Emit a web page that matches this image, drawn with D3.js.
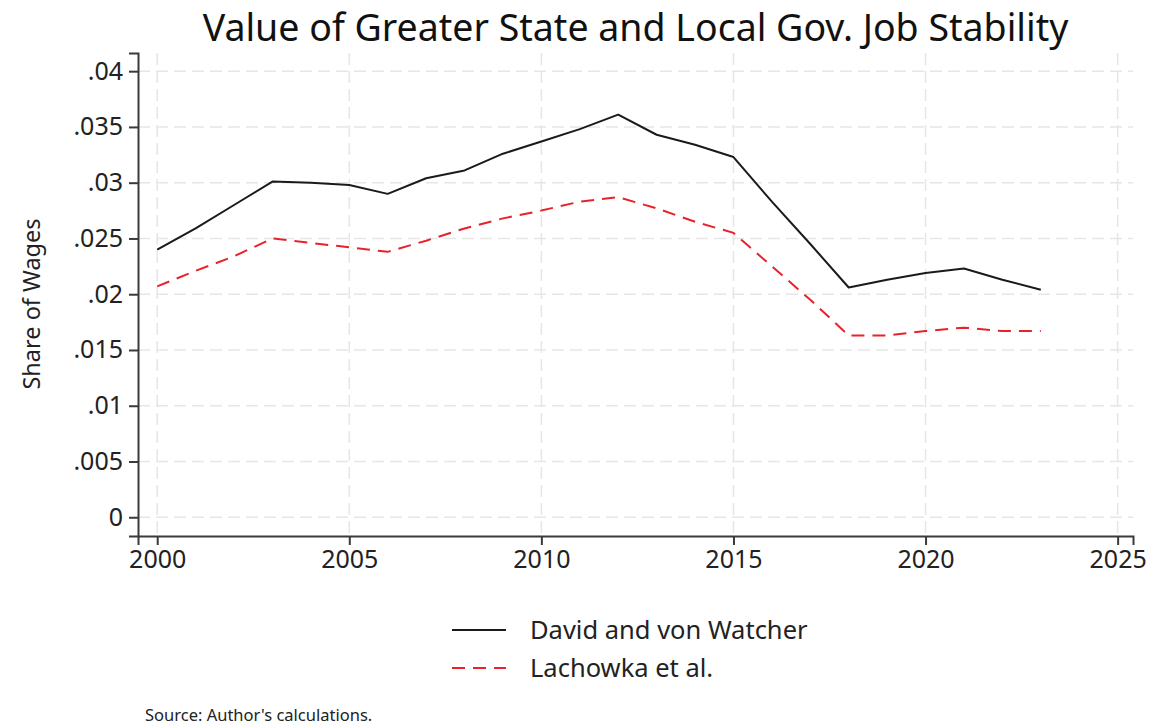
<!DOCTYPE html>
<html lang="en">

<head>
	<title>Value of Greater State and Local Gov. Job Stability</title>
	<meta charset="utf-8">
	<script src="https://d3js.org/d3.v7.min.js"></script>
	<style>
		body { margin: 0; background: #fff; }
		svg { display: block; font-family: "Noto Sans", sans-serif; }
	</style>
</head>

<body>
	<div id="container1"></div>
	<script>
		// Data
		const years = [2000, 2001, 2002, 2003, 2004, 2005, 2006, 2007, 2008, 2009, 2010, 2011,
			2012, 2013, 2014, 2015, 2016, 2017, 2018, 2019, 2020, 2021, 2022, 2023];
		const davidVonWatcher = [0.0240, 0.0259, 0.0280, 0.0301, 0.0300, 0.0298, 0.0290, 0.0304,
			0.0311, 0.0326, 0.0337, 0.0348, 0.0361, 0.0343, 0.0334, 0.0323, 0.0283, 0.0245,
			0.0206, 0.0213, 0.0219, 0.0223, 0.0213, 0.0204];
		const lachowka = [0.0207, 0.0221, 0.0234, 0.0250, 0.0246, 0.0242, 0.0238, 0.0248,
			0.0259, 0.0268, 0.0275, 0.0283, 0.0287, 0.0277, 0.0265, 0.0255, 0.0225, 0.0195,
			0.0163, 0.0163, 0.0167, 0.0170, 0.0167, 0.0167];
		const seriesNames = ["David and von Watcher", "Lachowka et al."];
		const xTicks = [2000, 2005, 2010, 2015, 2020, 2025];
		const yTicks = [0, 0.005, 0.01, 0.015, 0.02, 0.025, 0.03, 0.035, 0.04];
		const yTickLabels = ["0", ".005", ".01", ".015", ".02", ".025", ".03", ".035", ".04"];

		// Chart dimensions
		const W = 1166, H = 725;
		const margin = { top: 53, right: 33, bottom: 189, left: 138 };

		const svg = d3.select("#container1")
			.append("svg")
			.attr("width", W)
			.attr("height", H);

		// Scales
		const xScale = d3.scaleLinear()
			.domain([1999.5, 2025.4])
			.range([margin.left, W - margin.right]);

		const yScale = d3.scaleLinear()
			.domain([-0.00168, 0.04163])
			.range([H - margin.bottom, margin.top]);

		// Grid
		const grid = svg.append("g")
			.attr("stroke", "#e6e6e6")
			.attr("stroke-width", 1.5)
			.attr("stroke-dasharray", "12,6");

		grid.selectAll(".hgrid")
			.data(yTicks)
			.join("line")
			.attr("x1", margin.left)
			.attr("x2", W - margin.right)
			.attr("y1", d => yScale(d))
			.attr("y2", d => yScale(d));

		grid.selectAll(".vgrid")
			.data(xTicks)
			.join("line")
			.attr("x1", d => xScale(d))
			.attr("x2", d => xScale(d))
			.attr("y1", margin.top)
			.attr("y2", H - margin.bottom);

		// Axes
		svg.append("g")
			.attr("transform", `translate(0, ${H - margin.bottom})`)
			.call(d3.axisBottom(xScale).tickValues(xTicks).tickFormat(d3.format("d"))
				.tickSizeOuter(0).tickSize(9).tickPadding(5));

		svg.append("g")
			.attr("transform", `translate(${margin.left}, 0)`)
			.call(d3.axisLeft(yScale).tickValues(yTicks).tickFormat((d, i) => yTickLabels[i])
				.tickSizeOuter(0).tickSize(9).tickPadding(6));

		svg.selectAll(".domain, .tick line")
			.attr("stroke", "#3a3a3a")
			.attr("stroke-width", 2);

		svg.selectAll(".tick text")
			.style("font-family", "\"Noto Sans\", sans-serif")
			.style("font-size", "25px")
			.style("fill", "#222");

		// Lines
		const line = d3.line()
			.x((d, i) => xScale(years[i]))
			.y(d => yScale(d));

		svg.append("path")
			.attr("fill", "none")
			.attr("stroke", "#1a1a1a")
			.attr("stroke-width", 2)
			.attr("stroke-linejoin", "round")
			.attr("d", line(davidVonWatcher));

		svg.append("path")
			.attr("fill", "none")
			.attr("stroke", "#e8212b")
			.attr("stroke-width", 2)
			.attr("stroke-dasharray", "13,8")
			.attr("d", line(lachowka));

		// Title
		svg.append("text")
			.attr("x", (margin.left + W - margin.right) / 2)
			.attr("y", 41)
			.attr("text-anchor", "middle")
			.style("font-size", "37.5px")
			.style("fill", "#111")
			.text("Value of Greater State and Local Gov. Job Stability");

		// Y-axis label
		svg.append("text")
			.attr("transform", "translate(40, 304) rotate(-90)")
			.attr("text-anchor", "middle")
			.style("font-size", "23.5px")
			.style("fill", "#222")
			.text("Share of Wages");

		// Legend
		const legend = svg.append("g");
		const legendRows = [
			{ name: seriesNames[0], color: "#1a1a1a", dash: null, y: 630 },
			{ name: seriesNames[1], color: "#e8212b", dash: "13,8", y: 668 }
		];
		legendRows.forEach(r => {
			legend.append("line")
				.attr("x1", 452).attr("x2", 506)
				.attr("y1", r.y).attr("y2", r.y)
				.attr("stroke", r.color)
				.attr("stroke-width", 2)
				.attr("stroke-dasharray", r.dash);
			legend.append("text")
				.attr("x", 530)
				.attr("y", r.y)
				.attr("dy", "0.35em")
				.style("font-size", "25.5px")
				.style("fill", "#222")
				.text(r.name);
		});

		// Note
		svg.append("text")
			.attr("x", 145)
			.attr("y", 721)
			.style("font-size", "16.5px")
			.style("fill", "#222")
			.text("Source: Author's calculations.");
	</script>
</body>

</html>
